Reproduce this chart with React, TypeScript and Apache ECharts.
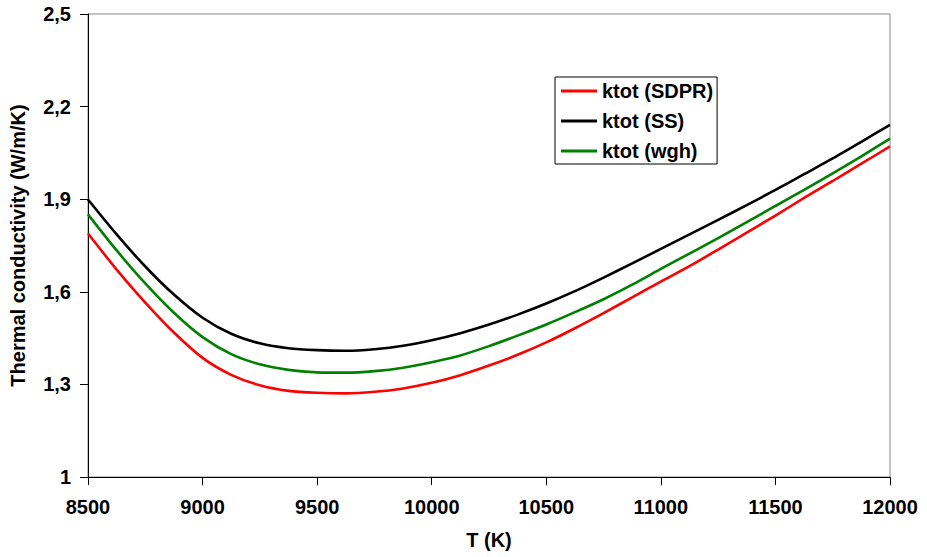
import React, { useEffect, useRef } from "react";
import * as echarts from "echarts";

const temperatures = [
  8500, 8625, 8750, 8875, 9000, 9125, 9250, 9375, 9500, 9625, 9750, 9875, 10000, 10125, 10250,
  10375, 10500, 10625, 10750, 10875, 11000, 11125, 11250, 11375, 11500, 11625, 11750, 11875, 12000,
];
const ktotSDPR = [
  1.789, 1.672, 1.565, 1.468, 1.386, 1.331, 1.297, 1.279, 1.273, 1.271, 1.276, 1.287, 1.305, 1.33, 1.361,
  1.396, 1.436, 1.482, 1.531, 1.582, 1.633, 1.683, 1.737, 1.792, 1.847, 1.904, 1.959, 2.015, 2.071,
];
const ktotSS = [
  1.899, 1.786, 1.682, 1.591, 1.516, 1.464, 1.433, 1.417, 1.411, 1.409, 1.414, 1.425, 1.443, 1.466, 1.494,
  1.526, 1.562, 1.602, 1.646, 1.692, 1.739, 1.786, 1.833, 1.881, 1.93, 1.981, 2.032, 2.086, 2.141,
];
const ktotWgh = [
  1.851, 1.734, 1.627, 1.532, 1.453, 1.398, 1.365, 1.347, 1.339, 1.338, 1.343, 1.354, 1.372, 1.394, 1.424,
  1.458, 1.494, 1.534, 1.576, 1.623, 1.674, 1.724, 1.774, 1.826, 1.878, 1.93, 1.984, 2.039, 2.096,
];
const yTicks = [1, 1.3, 1.6, 1.9, 2.2, 2.5];
const seriesNames = ["ktot (SDPR)", "ktot (SS)", "ktot (wgh)"];

const FONT = "'Liberation Sans', Arial, sans-serif";

export default function App() {
  const ref = useRef<HTMLDivElement>(null);
  useEffect(() => {
    if (!ref.current) return;
    const chart = echarts.init(ref.current, undefined, { renderer: "svg" });
    const mk = (name: string, vals: number[], color: string) => ({
      name,
      type: "line",
      data: temperatures.map((t, i) => [t, vals[i]]),
      smooth: 0.25,
      symbol: "none",
      lineStyle: { color, width: 2.6 },
      itemStyle: { color },
    });
    chart.setOption({
      animation: false,
      backgroundColor: "#fff",
      grid: {
        left: 87,
        right: 37,
        top: 14,
        bottom: 80,
        show: true,
        borderColor: "#888",
        borderWidth: 1,
      },
      legend: {
        orient: "vertical",
        left: 555,
        top: 77,
        backgroundColor: "#fff",
        borderColor: "#000",
        borderWidth: 1,
        padding: [4, 4, 3, 6],
        icon: "rect",
        itemWidth: 36,
        itemHeight: 3,
        itemGap: 10,
        textStyle: { fontFamily: FONT, fontWeight: "bold", fontSize: 20, color: "#000" },
        data: seriesNames,
      },
      xAxis: {
        type: "value",
        min: 8500,
        max: 12000,
        interval: 500,
        name: "T (K)",
        nameLocation: "middle",
        nameGap: 53,
        nameTextStyle: { fontFamily: FONT, fontWeight: "bold", fontSize: 20, color: "#000" },
        axisLine: { show: true, onZero: false, lineStyle: { color: "#000", width: 1 } },
        axisTick: { show: true, inside: false, length: 8, lineStyle: { color: "#000" } },
        axisLabel: {
          margin: 20,
          fontFamily: FONT,
          fontWeight: "bold",
          fontSize: 20,
          color: "#000",
          formatter: (v: number) => String(v),
        },
        splitLine: { show: false },
      },
      yAxis: {
        type: "value",
        min: 1,
        max: 2.5,
        name: "Thermal conductivity (W/m/K)",
        nameLocation: "middle",
        nameGap: 60,
        nameTextStyle: { fontFamily: FONT, fontWeight: "bold", fontSize: 20, color: "#000" },
        axisLine: { show: true, onZero: false, lineStyle: { color: "#000", width: 1 } },
        axisTick: { show: true, inside: false, length: 8, customValues: yTicks, lineStyle: { color: "#000" } },
        axisLabel: {
          margin: 17,
          customValues: yTicks,
          fontFamily: FONT,
          fontWeight: "bold",
          fontSize: 20,
          color: "#000",
          formatter: (v: number) => String(Math.round(v * 10) / 10).replace(".", ","),
        },
        splitLine: { show: false },
      },
      series: [
        mk(seriesNames[0], ktotSDPR, "#ff0000"),
        mk(seriesNames[1], ktotSS, "#000000"),
        mk(seriesNames[2], ktotWgh, "#008000"),
      ],
    });
    return () => chart.dispose();
  }, []);
  return (
    <div
      ref={ref}
      style={{ position: "fixed", left: 0, top: 0, width: 927, height: 557, background: "#fff" }}
    />
  );
}
